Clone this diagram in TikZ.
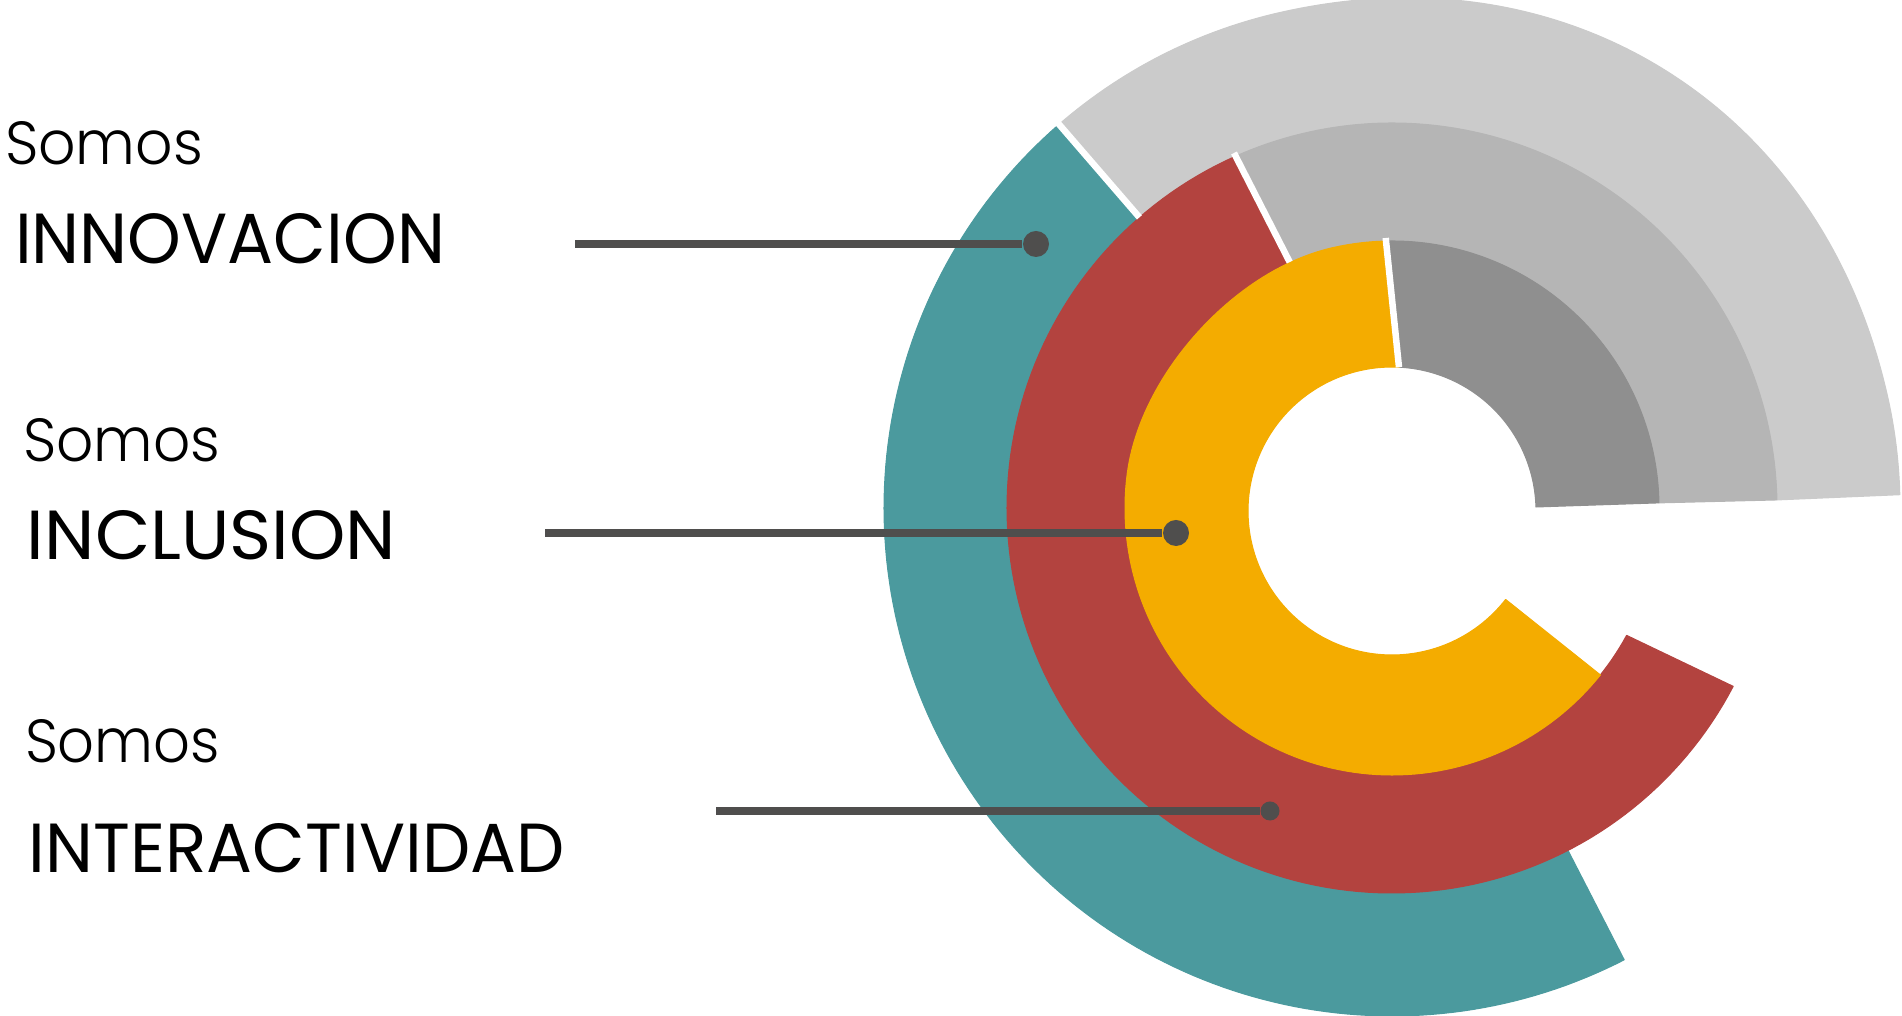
\documentclass[tikz,border=0pt]{standalone}
\usepackage{fontspec}
\usepackage{graphicx}
\IfFontExistsTF{Poppins Light}{\newfontfamily\somosfont{Poppins Light}}{\newfontfamily\somosfont{Poppins}}
\newfontfamily\capsfont{Poppins}
\definecolor{cteal}{HTML}{4B9A9E}
\definecolor{cred}{HTML}{B3433F}
\definecolor{cyellow}{HTML}{F4AC00}
\definecolor{clgray}{HTML}{CBCBCB}
\definecolor{cmgray}{HTML}{B5B5B5}
\definecolor{cdgray}{HTML}{8F8F8F}
\definecolor{cconn}{HTML}{4F4E4D}
\begin{document}
\begin{tikzpicture}[x=0.01cm,y=-0.01cm,
  declare function={
    bump(\u)=max(0,1-(\u)*(\u))*max(0,1-(\u)*(\u));
    rone(\t)=508+8*bump((\t+58)/45);
    rthree(\t)=267-5*bump((\t-222)/35)-5*bump((\t+138)/35);
  },
  ring/.style={line width=0.3pt, line join=round},
  sep/.style={draw=white, line width=0.065cm},
  conn/.style={draw=cconn, line width=0.075cm},
  dot/.style={circle, fill=cconn, inner sep=0pt, minimum size=#1},
  lbl/.style={anchor=base west, inner sep=0pt, outer sep=0pt},
  arcplot/.style={samples=140, variable=\t}]
\useasboundingbox (0,0) rectangle (1902,1016);

% light gray (outer ring, grey part)
\filldraw[ring, fill=clgray, draw=clgray]
  plot[arcplot, domain=-131:-1.5] ({1392+rone(\t)*cos(\t)},{508+rone(\t)*sin(\t)})
  -- plot[arcplot, domain=-131:-1.2] ({1392+385*cos(-132.2-(\t))},{508+385*sin(-132.2-(\t))})
  -- cycle;

% mid gray
\filldraw[ring, fill=cmgray, draw=cmgray]
  plot[arcplot, domain=-114:-1.2] ({1392+385*cos(\t)},{508+385*sin(\t)})
  -- plot[arcplot, domain=-112.6:-1.1] ({1392+rthree(-113.7-(\t))*cos(-113.7-(\t))},{508+rthree(-113.7-(\t))*sin(-113.7-(\t))})
  -- cycle;

% dark gray
\filldraw[ring, fill=cdgray, draw=cdgray]
  plot[arcplot, domain=-91.3:-1.1] ({1392+rthree(\t)*cos(\t)},{508+rthree(\t)*sin(\t)})
  -- plot[arcplot, domain=-87.2:-1.6] ({1392+144*cos(-88.8-(\t))},{511+144*sin(-88.8-(\t))})
  -- cycle;

% teal
\filldraw[ring, fill=cteal, draw=cteal]
  plot[arcplot, domain=62.8:229] ({1392+508*cos(\t)},{508+508*sin(\t)})
  -- plot[arcplot, domain=62.8:229] ({1392+385*cos(291.8-(\t))},{508+385*sin(291.8-(\t))})
  -- cycle;

% red
\filldraw[ring, fill=cred, draw=cred]
  plot[arcplot, domain=27.6:246] ({1392+385*cos(\t)},{508+385*sin(\t)})
  -- plot[arcplot, domain=28.5:247.4] ({1392+rthree(275.9-(\t))*cos(275.9-(\t))},{508+rthree(275.9-(\t))*sin(275.9-(\t))})
  -- cycle;

% yellow
\filldraw[ring, fill=cyellow, draw=cyellow]
  plot[arcplot, domain=38.7:268.7] ({1392+rthree(\t)*cos(\t)},{508+rthree(\t)*sin(\t)})
  -- plot[arcplot, domain=37.9:272.8] ({1392+144*cos(310.7-(\t))},{511+144*sin(310.7-(\t))})
  -- cycle;

% white separators
\coordinate (w1a) at (1057,122);
\coordinate (w1b) at (1139.4,217.4);
\coordinate (w2a) at (1234,153);
\coordinate (w2b) at (1289.7,262.1);
\coordinate (w3a) at (1385.7,238);
\coordinate (w3b) at (1399,367.2);
\draw[sep] (w1a) -- (w1b);
\draw[sep] (w2a) -- (w2b);
\draw[sep] (w3a) -- (w3b);

% connectors
\coordinate (s1) at (575,244);
\coordinate (s2) at (545,533);
\coordinate (s3) at (716,811);
\node[dot=0.26cm] (d1) at (1036,244) {};
\node[dot=0.26cm] (d2) at (1176,533) {};
\node[dot=0.19cm] (d3) at (1270,811) {};
\draw[conn] (s1) -- (d1);
\draw[conn] (s2) -- (d2);
\draw[conn] (s3) -- (d3);

% labels
\node[lbl] (t1) at (5,165) {\resizebox{1.98cm}{0.43cm}{\somosfont\fontsize{20pt}{24pt}\selectfont Somos}};
\node[lbl] (t2) at (15,264) {\resizebox{4.30cm}{0.50cm}{\capsfont\fontsize{20pt}{24pt}\selectfont INNOVACION}};
\node[lbl] (t3) at (23,462) {\resizebox{1.97cm}{0.43cm}{\somosfont\fontsize{20pt}{24pt}\selectfont Somos}};
\node[lbl] (t4) at (27,560) {\resizebox{3.69cm}{0.49cm}{\capsfont\fontsize{20pt}{24pt}\selectfont INCLUSION}};
\node[lbl] (t5) at (25,763) {\resizebox{1.95cm}{0.43cm}{\somosfont\fontsize{20pt}{24pt}\selectfont Somos}};
\node[lbl] (t6) at (29,873) {\resizebox{5.35cm}{0.49cm}{\capsfont\fontsize{20pt}{24pt}\selectfont INTERACTIVIDAD}};
\end{tikzpicture}
\end{document}
